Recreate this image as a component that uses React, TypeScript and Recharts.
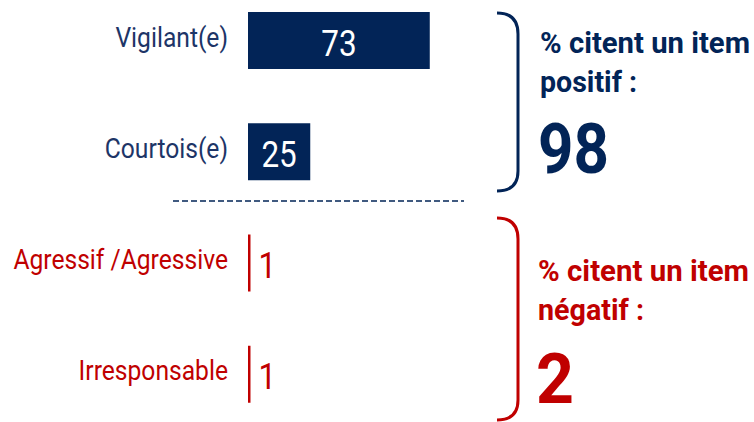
import React from "react";
import { BarChart, Bar, XAxis, YAxis, LabelList } from "recharts";

// chart values
const categories = ["Vigilant(e)", "Courtois(e)", "Agressif /Agressive", "Irresponsable"];
const values = [73, 25, 1, 1];
const polarity = ["positif", "positif", "négatif", "négatif"];

const NAVY = "#022457";
const NAVY_TEXT = "#1d3567";
const RED = "#c00000";
const FONT = "Roboto, 'Noto Sans', sans-serif";

const data = categories.map((name, i) => ({
  name,
  positif: polarity[i] === "positif" ? values[i] : null,
  negatif: polarity[i] === "négatif" ? values[i] : null,
}));

const totalPositif = values.filter((_, i) => polarity[i] === "positif").reduce((a, b) => a + b, 0);
const totalNegatif = values.filter((_, i) => polarity[i] === "négatif").reduce((a, b) => a + b, 0);

const CategoryTick = (props: any) => {
  const { y, payload } = props;
  const i = categories.indexOf(payload.value);
  const color = polarity[i] === "positif" ? NAVY_TEXT : RED;
  return (
    <text
      transform={`translate(228, ${y + 6}) scale(0.88, 1)`}
      textAnchor="end"
      fontSize={28}
      fontFamily={FONT}
      fill={color}
    >
      {payload.value}
    </text>
  );
};

const InsideLabel = (props: any) => {
  const { x, y, width, height, value } = props;
  if (value == null) return null;
  return (
    <text
      transform={`translate(${x + width / 2}, ${y + height / 2 + 15.5}) scale(0.85, 1)`}
      textAnchor="middle"
      fontSize={37}
      fontFamily={FONT}
      fill="#ffffff"
    >
      {value}
    </text>
  );
};

const OutsideLabel = (props: any) => {
  const { x, y, width, height, value } = props;
  if (value == null) return null;
  return (
    <text
      transform={`translate(${x + width + 8}, ${y + height / 2 + 14.5}) scale(0.85, 1)`}
      textAnchor="start"
      fontSize={37}
      fontFamily={FONT}
      fill={RED}
    >
      {value}
    </text>
  );
};

export default function App() {
  return (
    <div style={{ position: "absolute", left: 0, top: 0, width: 754, height: 422, background: "#fff" }}>
      <BarChart
        width={754}
        height={422}
        data={data}
        layout="vertical"
        margin={{ top: -15, right: 257, bottom: -8, left: 0 }}
      >
        <XAxis type="number" hide domain={[0, 100]} />
        <YAxis
          type="category"
          dataKey="name"
          width={248}
          axisLine={false}
          tickLine={false}
          interval={0}
          tick={CategoryTick}
        />
        <Bar dataKey="positif" stackId="a" fill={NAVY} barSize={57} isAnimationActive={false}>
          <LabelList dataKey="positif" content={InsideLabel} />
        </Bar>
        <Bar dataKey="negatif" stackId="a" fill={RED} barSize={57} isAnimationActive={false}>
          <LabelList dataKey="negatif" content={OutsideLabel} />
        </Bar>
      </BarChart>
      <svg
        width={754}
        height={422}
        style={{ position: "absolute", left: 0, top: 0, pointerEvents: "none" }}
      >
        <line x1={173} y1={201} x2={464} y2={201} stroke={NAVY} strokeWidth={1.6} strokeDasharray="6 3" />
        <path d="M497,13 Q518,13 518,34 L518,171 Q518,191 497,191" fill="none" stroke={NAVY} strokeWidth={3} />
        <path d="M497,218 Q518,218 518,239 L518,400 Q518,420 497,420" fill="none" stroke={RED} strokeWidth={3} />
        <g fontFamily={FONT} fontWeight={700}>
          <text x={540} y={53} fontSize={29} fill={NAVY} textLength={210} lengthAdjust="spacingAndGlyphs">
            % citent un item
          </text>
          <text x={540} y={92} fontSize={29} fill={NAVY} textLength={97} lengthAdjust="spacingAndGlyphs">
            positif :
          </text>
          <text x={538} y={173} fontSize={70} fill={NAVY} textLength={71} lengthAdjust="spacingAndGlyphs">
            {totalPositif}
          </text>
          <text x={538} y={281} fontSize={29} fill={RED} textLength={211} lengthAdjust="spacingAndGlyphs">
            % citent un item
          </text>
          <text x={538} y={320} fontSize={29} fill={RED} textLength={106} lengthAdjust="spacingAndGlyphs">
            négatif :
          </text>
          <text x={536} y={403} fontSize={71} fill={RED} textLength={38} lengthAdjust="spacingAndGlyphs">
            {totalNegatif}
          </text>
        </g>
      </svg>
    </div>
  );
}
